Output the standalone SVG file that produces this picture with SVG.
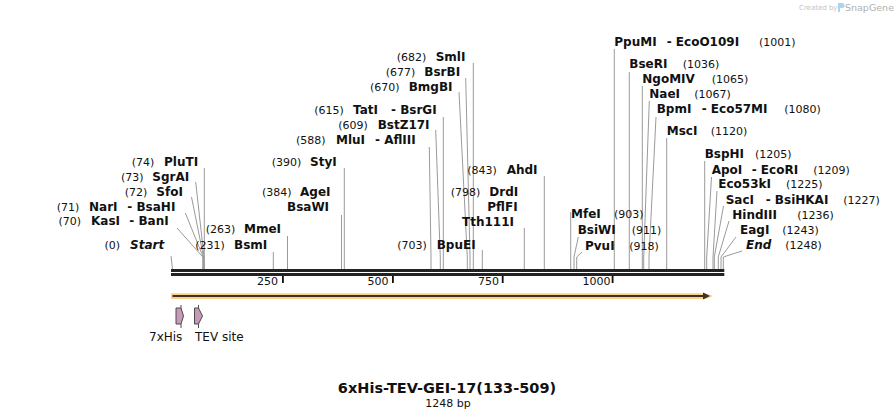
<svg xmlns="http://www.w3.org/2000/svg" width="896" height="419" viewBox="0 0 896 419">
<style>
text{font-family:"DejaVu Sans",Verdana,sans-serif;fill:#111}
.n{font-size:11px}
.b{font-size:12px;font-weight:bold}
.i{font-size:12px;font-weight:bold;font-style:italic}
.t{font-size:11px}
.f{font-size:12px}
.c path{stroke:#9a9a9a;stroke-width:1;fill:none}
.feat{fill:#c99ab7;stroke:#4a4a4a;stroke-width:1}
.fl{stroke:#4a4a4a;stroke-width:1}
</style>
<rect width="896" height="419" fill="#fff"/>

<g id="watermark">
<text x="799" y="10" style="font-size:7px;fill:#c4c4c4">Created by</text>
<path d="M838,3 h4 a2.5,2.5 0 0 1 0,5 h-2 v4 h-2 z" fill="#a8d4ef"/>
<text x="845" y="11" style="font-size:9.5px;fill:#b0b0b0">SnapGene</text>
</g>

<g id="connectors" class="c">
<path d="M171,256 L172.5,269"/>
<path d="M177,228 L202.8,257 V269"/>
<path d="M185.3,213 L203.2,257 V269"/>
<path d="M191.5,197 L203.6,257 V269"/>
<path d="M195.7,182 L204,257 V269"/>
<path d="M204.3,168 V269"/>
<path d="M273.3,252 V269"/>
<path d="M287.5,236 V269"/>
<path d="M341.5,215 V269"/>
<path d="M344.3,168 V269"/>
<path d="M429.3,147 L431,257 V269"/>
<path d="M435.7,130 L440.3,257 V269"/>
<path d="M443.3,117 V269"/>
<path d="M459,92 L467.3,257 V269"/>
<path d="M465.7,78 L470,257 V269"/>
<path d="M473.3,63 V269"/>
<path d="M482.3,250 V269"/>
<path d="M524.3,228 V269"/>
<path d="M544.3,176 V269"/>
<path d="M570.7,212 V269"/>
<path d="M578.3,237 L574,257 V269"/>
<path d="M582,252 L576.7,257 V269"/>
<path d="M614.3,49 V269"/>
<path d="M629.3,72 V269"/>
<path d="M642.3,86 V269"/>
<path d="M649.3,101 L643.7,257 V269"/>
<path d="M656,117 L649,257 V269"/>
<path d="M666.7,138 V269"/>
<path d="M704.7,161 V269"/>
<path d="M711.5,177 L706.7,257 V269"/>
<path d="M717,191 L713,257 V269"/>
<path d="M723.5,206 L714.3,257 V269"/>
<path d="M729,221 L718.3,257 V269"/>
<path d="M736,237 L721,257 V269"/>
<path d="M742,251 L723.3,257 V269"/>
</g>

<g id="track">
<rect x="171" y="269" width="553.3" height="3" fill="#222"/>
<rect x="171" y="273" width="553.3" height="3" fill="#222"/>
<rect x="282" y="276" width="1.8" height="7" fill="#111"/>
<rect x="392" y="276" width="1.8" height="7" fill="#111"/>
<rect x="501.8" y="276" width="1.8" height="7" fill="#111"/>
<rect x="611.7" y="276" width="1.8" height="7" fill="#111"/>
<text class="t" x="278" y="285" text-anchor="end">250</text>
<text class="t" x="388.5" y="285" text-anchor="end">500</text>
<text class="t" x="499" y="285" text-anchor="end">750</text>
<text class="t" x="610.5" y="285" text-anchor="end">1000</text>
</g>

<g id="orf">
<path d="M171,293.3 H706 L713,296 L706,298.9 H171 Z" fill="#fbcf86"/>
<path d="M172.5,296 H704" stroke="#3a3129" stroke-width="2"/>
<path d="M703,292.5 L710,296 L703,299.5 Z" fill="#3a3129"/>
</g>

<g id="f-7xHis">
<path class="feat" d="M176,308 H181 L183.5,316 L181,324 H176 Z"/>
<path class="fl" d="M181,305 V308 M181,324 V328"/>
<text class="f" x="149" y="341">7xHis</text>
</g>
<g id="f-TEV">
<path class="feat" d="M194.5,308 H198.5 L202.5,316 L198.5,324 H194.5 Z"/>
<path class="fl" d="M198.5,305 V308 M198.5,324 V328"/>
<text class="f" x="195" y="341">TEV site</text>
</g>

<g id="s-start"><text class="n" x="104.5" y="248.5">(0)</text><text class="i" x="130" y="248.5">Start</text></g>
<g id="s-kasi"><text class="n" x="58.5" y="225">(70)</text><text class="b" x="91" y="225">KasI</text><text class="b" x="129.3" y="225">- BanI</text></g>
<g id="s-nari"><text class="n" x="56.7" y="210.7">(71)</text><text class="b" x="89" y="210.7">NarI</text><text class="b" x="127.3" y="210.7">- BsaHI</text></g>
<g id="s-sfoi"><text class="n" x="124.7" y="195.7">(72)</text><text class="b" x="156.3" y="195.7">SfoI</text></g>
<g id="s-sgrai"><text class="n" x="121" y="181">(73)</text><text class="b" x="152.3" y="181">SgrAI</text></g>
<g id="s-pluti"><text class="n" x="131.7" y="166">(74)</text><text class="b" x="164" y="166">PluTI</text></g>
<g id="s-bsmi"><text class="n" x="195.3" y="248.5">(231)</text><text class="b" x="234" y="248.5">BsmI</text></g>
<g id="s-mmei"><text class="n" x="205.7" y="233.3">(263)</text><text class="b" x="244" y="233.3">MmeI</text></g>
<g id="s-agei"><text class="n" x="262" y="195.7">(384)</text><text class="b" x="300" y="195.7">AgeI</text><text class="b" x="287" y="210.7">BsaWI</text></g>
<g id="s-styi"><text class="n" x="271.7" y="165.7">(390)</text><text class="b" x="310" y="165.7">StyI</text></g>
<g id="s-mlui"><text class="n" x="296" y="144">(588)</text><text class="b" x="336" y="144">MluI</text><text class="b" x="375" y="144">- AflIII</text></g>
<g id="s-bstz17i"><text class="n" x="338.3" y="129">(609)</text><text class="b" x="377.7" y="129">BstZ17I</text></g>
<g id="s-tati"><text class="n" x="314.3" y="114">(615)</text><text class="b" x="353" y="114">TatI</text><text class="b" x="391" y="114">- BsrGI</text></g>
<g id="s-bmgbi"><text class="n" x="370" y="90.7">(670)</text><text class="b" x="408.7" y="90.7">BmgBI</text></g>
<g id="s-bsrbi"><text class="n" x="385.7" y="75.7">(677)</text><text class="b" x="424.3" y="75.7">BsrBI</text></g>
<g id="s-smli"><text class="n" x="396.7" y="60.7">(682)</text><text class="b" x="435.7" y="60.7">SmlI</text></g>
<g id="s-bpuei"><text class="n" x="397.3" y="249">(703)</text><text class="b" x="436.7" y="249">BpuEI</text></g>
<g id="s-drdi"><text class="n" x="450.7" y="195.7">(798)</text><text class="b" x="489.3" y="195.7">DrdI</text><text class="b" x="487.3" y="210.7">PflFI</text><text class="b" x="462" y="225.7">Tth111I</text></g>
<g id="s-ahdi"><text class="n" x="467.3" y="174">(843)</text><text class="b" x="506.7" y="174">AhdI</text></g>
<g id="s-mfei"><text class="b" x="571" y="218.3">MfeI</text><text class="n" x="614" y="218.3">(903)</text></g>
<g id="s-bsiwi"><text class="b" x="577.7" y="234">BsiWI</text><text class="n" x="631.7" y="234">(911)</text></g>
<g id="s-pvui"><text class="b" x="585" y="250">PvuI</text><text class="n" x="629.3" y="250">(918)</text></g>
<g id="s-ppumi"><text class="b" x="614.3" y="46">PpuMI</text><text class="b" x="666.7" y="46">- EcoO109I</text><text class="n" x="759" y="46">(1001)</text></g>
<g id="s-bseri"><text class="b" x="629.3" y="67.7">BseRI</text><text class="n" x="682.7" y="67.7">(1036)</text></g>
<g id="s-ngomiv"><text class="b" x="642.3" y="83.3">NgoMIV</text><text class="n" x="711.7" y="83.3">(1065)</text></g>
<g id="s-naei"><text class="b" x="649.3" y="98.3">NaeI</text><text class="n" x="694.3" y="98.3">(1067)</text></g>
<g id="s-bpmi"><text class="b" x="656.7" y="113.3">BpmI</text><text class="b" x="701.7" y="113.3">- Eco57MI</text><text class="n" x="784.3" y="113.3">(1080)</text></g>
<g id="s-msci"><text class="b" x="666.7" y="135">MscI</text><text class="n" x="710.7" y="135">(1120)</text></g>
<g id="s-bsphi"><text class="b" x="704.7" y="158.3">BspHI</text><text class="n" x="755" y="158.3">(1205)</text></g>
<g id="s-apoi"><text class="b" x="711.7" y="174">ApoI</text><text class="b" x="751.7" y="174">- EcoRI</text><text class="n" x="813.3" y="174">(1209)</text></g>
<g id="s-eco53ki"><text class="b" x="718.3" y="188.3">Eco53kI</text><text class="n" x="786" y="188.3">(1225)</text></g>
<g id="s-saci"><text class="b" x="725.7" y="204">SacI</text><text class="b" x="765.7" y="204">- BsiHKAI</text><text class="n" x="843.3" y="204">(1227)</text></g>
<g id="s-hindiii"><text class="b" x="732.3" y="219.3">HindIII</text><text class="n" x="797.3" y="219.3">(1236)</text></g>
<g id="s-eagi"><text class="b" x="740" y="234">EagI</text><text class="n" x="782.3" y="234">(1243)</text></g>
<g id="s-end"><text class="i" x="746" y="249">End</text><text class="n" x="785.3" y="249">(1248)</text></g>

<g id="title">
<text x="447" y="393" text-anchor="middle" style="font-size:14.5px;font-weight:bold">6xHis-TEV-GEI-17(133-509)</text>
<text x="448" y="407" text-anchor="middle" style="font-size:11px">1248 bp</text>
</g>
</svg>
